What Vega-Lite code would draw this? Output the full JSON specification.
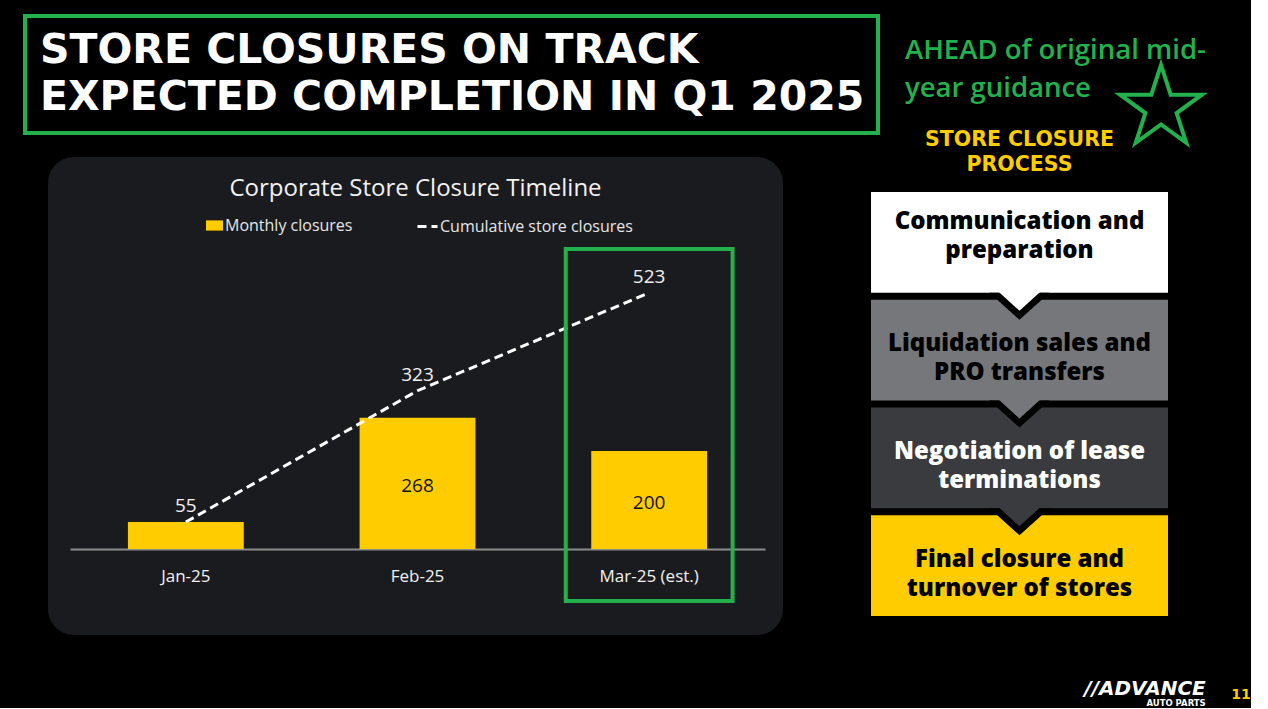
{
  "$schema": "https://vega.github.io/schema/vega-lite/v6.json",
  "background": "#000000",
  "padding": {"left": 23, "top": 14, "right": 0, "bottom": 0},
  "config": {"view": {"stroke": null}, "font": "Open Sans"},
  "title": {
    "text": "//ADVANCE", "subtitle": "AUTO PARTS", "orient": "bottom", "anchor": "end",
    "offset": -23, "dx": -45, "fontSize": 20, "font": "DejaVu Sans", "fontWeight": "bold", "fontStyle": "italic",
    "color": "#FFFFFF", "subtitleColor": "#FFFFFF", "subtitleFont": "DejaVu Sans", "subtitleFontWeight": "bold",
    "subtitleFontSize": 8.5, "subtitlePadding": 0
  },
  "resolve": {"scale": {"color": "independent", "strokeDash": "independent"}},
  "bounds": "flush",
  "spacing": 846,
  "hconcat": [
    {
      "spacing": 22,
      "resolve": {"scale": {"color": "independent", "strokeDash": "independent"}},
      "vconcat": [
        {
          "width": 853, "height": 117,
          "view": {"stroke": "#22B14C", "strokeWidth": 4},
          "data": {"values": [{"headline": "STORE CLOSURES ON TRACK\nEXPECTED COMPLETION IN Q1 2025"}]},
          "mark": {"type": "text", "align": "left", "baseline": "middle", "dx": -411.5, "dy": -24,
                   "lineBreak": "\n", "lineHeight": 47, "font": "DejaVu Sans", "fontWeight": "bold",
                   "fontSize": 41, "color": "#FFFFFF"},
          "encoding": {"text": {"field": "headline"}}
        },
        {
          "spacing": 22,
          "resolve": {"scale": {"color": "independent", "strokeDash": "independent"}},
          "hconcat": [
            {
              "width": 1, "height": 1,
              "data": {"values": [{"gap": 1}]},
              "mark": {"type": "point", "size": 0, "opacity": 0},
              "encoding": {}
            },
            {
              "width": 735, "height": 478,
              "view": {"fill": "#1A1B1E", "cornerRadius": 26, "stroke": null},
              "title": {"text": "Corporate Store Closure Timeline", "offset": -44, "fontSize": 24,
                        "font": "Open Sans", "fontWeight": "normal", "color": "#F2F2F2",
                        "anchor": "middle", "frame": "group"},
              "data": {"values": [
                {"month": "Jan-25", "monthly": 55, "cumulative": 55, "status": "actual"},
                {"month": "Feb-25", "monthly": 268, "cumulative": 323, "status": "actual"},
                {"month": "Mar-25 (est.)", "monthly": 200, "cumulative": 523, "status": "estimated"}
              ]},
              "encoding": {
                "x": {"field": "month", "type": "nominal",
                      "scale": {"domain": ["Jan-25", "Feb-25", "Mar-25 (est.)"], "range": [22, 717],
                                "paddingInner": 0, "paddingOuter": 0},
                      "axis": {"orient": "bottom", "offset": -86, "title": null, "labelAngle": 0,
                               "ticks": false, "domainColor": "#8C8C8C", "domainWidth": 2,
                               "labelColor": "#F2F2F2", "labelFontSize": 17, "labelFont": "Open Sans",
                               "labelPadding": 19, "grid": false}}
              },
              "resolve": {"scale": {"y": "independent"}},
              "layer": [
                {
                  "mark": {"type": "bar", "width": {"band": 0.5}},
                  "encoding": {
                    "y": {"field": "monthly", "type": "quantitative",
                          "scale": {"domain": [0, 600], "range": [392, 98], "nice": false},
                          "axis": null},
                    "color": {"datum": "Monthly closures", "type": "nominal",
                              "scale": {"range": ["#FFCC00"]},
                              "legend": {"title": null, "orient": "none", "legendX": 158, "legendY": 60,
                                         "direction": "horizontal", "symbolType": "M-1,-0.6H1V0.6H-1Z",
                                         "symbolSize": 289, "symbolStrokeWidth": 0, "labelFontSize": 16,
                                         "labelFont": "Open Sans", "labelColor": "#E6E6E6",
                                         "labelOffset": 2, "padding": 0, "labelLimit": 0}}
                  }
                },
                {
                  "mark": {"type": "line", "color": "#FFFFFF", "strokeWidth": 3},
                  "encoding": {
                    "y": {"field": "cumulative", "type": "quantitative",
                          "scale": {"domain": [0, 600], "range": [392, 98], "nice": false}, "axis": null},
                    "strokeDash": {"datum": "Cumulative store closures", "type": "nominal",
                                   "scale": {"range": [[9, 5]]},
                                   "legend": {"title": null, "orient": "none", "legendX": 368, "legendY": 58,
                                              "direction": "horizontal", "symbolType": "stroke",
                                              "symbolSize": 400, "symbolStrokeColor": "#FFFFFF",
                                              "symbolStrokeWidth": 3, "labelFontSize": 16,
                                              "labelFont": "Open Sans", "labelColor": "#E6E6E6",
                                              "labelOffset": 1, "padding": 0, "labelLimit": 0}}
                  }
                },
                {
                  "mark": {"type": "text", "dy": -16, "fontSize": 19, "font": "Open Sans", "color": "#F2F2F2"},
                  "encoding": {
                    "y": {"field": "cumulative", "type": "quantitative",
                          "scale": {"domain": [0, 600], "range": [392, 98], "nice": false}, "axis": null},
                    "text": {"field": "cumulative", "type": "quantitative"}
                  }
                },
                {
                  "transform": [{"filter": "datum.monthly >= 100"}],
                  "mark": {"type": "text", "fontSize": 19, "font": "Open Sans", "color": "#111111",
                           "baseline": "middle", "dy": 3},
                  "encoding": {
                    "y": {"field": "monthly", "type": "quantitative",
                          "scale": {"domain": [0, 1200], "range": [392, 98], "nice": false}, "axis": null},
                    "text": {"field": "monthly", "type": "quantitative"}
                  }
                },
                {
                  "transform": [{"filter": "datum.status === 'estimated'"}],
                  "mark": {"type": "bar", "width": {"band": 0.72}, "fillOpacity": 0,
                           "stroke": "#22B14C", "strokeWidth": 4},
                  "encoding": {
                    "y": {"datum": 612, "type": "quantitative",
                          "scale": {"domain": [0, 600], "range": [392, 98], "nice": false}, "axis": null},
                    "y2": {"datum": -106}
                  }
                }
              ]
            }
          ]
        }
      ]
    },
    {
      "spacing": -22,
      "resolve": {"scale": {"color": "independent"}},
      "vconcat": [
        {
          "width": 297, "height": 116,
          "layer": [
            {
              "data": {"values": [{"note": "AHEAD of original mid-\nyear guidance"}]},
              "mark": {"type": "text", "align": "left", "baseline": "middle", "dx": -114.5, "dy": -23,
                       "lineBreak": "\n", "lineHeight": 38, "fontSize": 27.5, "font": "Open Sans",
                       "fontWeight": 600, "color": "#22B14C"},
              "encoding": {"text": {"field": "note"}}
            },
            {
              "data": {"values": [{"symbol": "star"}]},
              "mark": {"type": "point",
                       "shape": "M0,-1L0.2245,-0.309L0.9511,-0.309L0.3633,0.118L0.5878,0.809L0,0.382L-0.5878,0.809L-0.3633,0.118L-0.9511,-0.309L-0.2245,-0.309Z",
                       "size": 7396, "filled": false, "stroke": "#22B14C", "strokeWidth": 4,
                       "opacity": 1, "xOffset": 141.5, "yOffset": 34},
              "encoding": {}
            }
          ]
        },
        {
          "width": 297, "height": 424,
          "title": {"text": ["STORE CLOSURE", "PROCESS"], "color": "#FFCC00", "fontSize": 20.5,
                    "font": "DejaVu Sans", "fontWeight": "bold", "lineHeight": 25, "offset": 17,
                    "anchor": "middle", "frame": "group"},
          "data": {"values": [
            {"order": 1, "step": "Communication and\npreparation"},
            {"order": 2, "step": "Liquidation sales and\nPRO transfers"},
            {"order": 3, "step": "Negotiation of lease\nterminations"},
            {"order": 4, "step": "Final closure and\nturnover of stores"}
          ]},
          "layer": [
            {
              "mark": {"type": "bar"},
              "encoding": {
                "y": {"field": "step", "type": "nominal",
                      "scale": {"domain": ["Communication and\npreparation", "Liquidation sales and\nPRO transfers", "Negotiation of lease\nterminations", "Final closure and\nturnover of stores"],
                                "paddingInner": 0.065, "paddingOuter": 0}, "axis": null},
                "color": {"field": "step", "type": "nominal",
                          "scale": {"domain": ["Communication and\npreparation", "Liquidation sales and\nPRO transfers", "Negotiation of lease\nterminations", "Final closure and\nturnover of stores"],
                                    "range": ["#FFFFFF", "#76777A", "#3A3B3F", "#FFCC00"]},
                          "legend": null}
              }
            },
            {
              "transform": [{"filter": "datum.order < 4"}],
              "mark": {"type": "point", "shape": "M-1.5,0L1.5,0L0,1.35Z", "filled": true,
                       "color": "#000000", "size": 1600, "opacity": 1, "strokeWidth": 0},
              "encoding": {
                "y": {"field": "step", "type": "nominal", "bandPosition": 1, "axis": null}
              }
            },
            {
              "transform": [{"filter": "datum.order < 4"}],
              "mark": {"type": "point", "shape": "M-1.1,-0.1L1.1,-0.1L0,0.9Z", "filled": true,
                       "size": 1600, "opacity": 1, "strokeWidth": 0},
              "encoding": {
                "y": {"field": "step", "type": "nominal", "bandPosition": 1, "axis": null},
                "color": {"field": "step", "type": "nominal", "legend": null}
              }
            },
            {
              "transform": [{"filter": "datum.order === 1"}],
              "mark": {"type": "text", "baseline": "middle", "dy": -20, "lineBreak": "\n", "lineHeight": 29,
                       "fontSize": 24, "font": "Open Sans", "fontWeight": 800, "color": "#000000"},
              "encoding": {
                "y": {"field": "step", "type": "nominal", "axis": null},
                "text": {"field": "step"}
              }
            },
            {
              "transform": [{"filter": "datum.order > 1"}],
              "mark": {"type": "text", "baseline": "middle", "dy": -6, "lineBreak": "\n", "lineHeight": 29,
                       "fontSize": 24, "font": "Open Sans", "fontWeight": 800},
              "encoding": {
                "y": {"field": "step", "type": "nominal", "axis": null},
                "text": {"field": "step"},
                "color": {"condition": {"test": "datum.order === 3", "value": "#FFFFFF"}, "value": "#000000"}
              }
            },
            {
              "data": {"values": [{"page": "11"}]},
              "mark": {"type": "text", "dx": 221.5, "dy": 291, "fontSize": 14, "font": "DejaVu Sans",
                       "fontWeight": "bold", "color": "#FFCC00"},
              "encoding": {"text": {"field": "page"}}
            }
          ]
        }
      ]
    }
  ]
}
